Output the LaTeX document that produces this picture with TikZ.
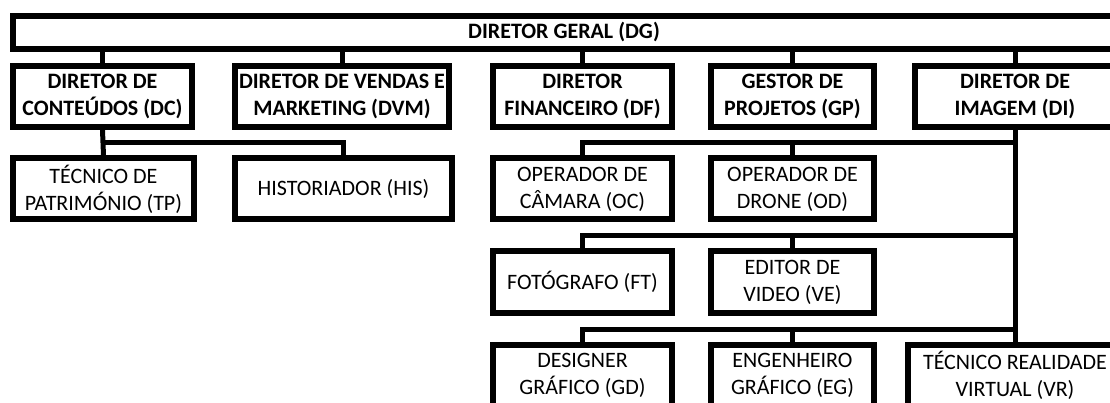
\documentclass[tikz,border=0pt]{standalone}
\usepackage{fontspec}
\setmainfont{Carlito}
\begin{document}
\begin{tikzpicture}[x=1pt,y=-1pt,
  box/.style={draw=black,line width=6pt,inner sep=0pt,align=center,
    minimum height=61pt,font=\fontsize{22}{27}\selectfont},
  boss/.style={box,font=\fontsize{22}{27}\selectfont\bfseries},
  conn/.style={draw=black,line width=5pt}]
\useasboundingbox (0,0) rectangle (1110,403);
\clip (0,0) rectangle (1110,403);
% level 1
\node[boss,minimum width=1102pt,minimum height=33pt] (dg) at (564,32.5) {DIRETOR GERAL (DG)};
% level 2
\node[boss,minimum width=179pt] (dc) at (102.5,96.5) {DIRETOR DE\\CONTEÚDOS (DC)};
\node[boss,minimum width=214pt] (dvm) at (342,96.5) {DIRETOR DE VENDAS E\\MARKETING (DVM)};
\node[boss,minimum width=179pt] (df) at (582.5,96.5) {DIRETOR\\FINANCEIRO (DF)};
\node[boss,minimum width=163pt] (gp) at (792.5,96.5) {GESTOR DE\\PROJETOS (GP)};
\node[boss,minimum width=200pt] (di) at (1015,96.5) {DIRETOR DE\\IMAGEM (DI)};
% level 3
\node[box,minimum width=181pt] (tp) at (103.5,189) {TÉCNICO DE\\PATRIMÓNIO (TP)};
\node[box,minimum width=217pt] (his) at (343.5,189) {HISTORIADOR (HIS)};
\node[box,minimum width=179pt] (oc) at (582.5,189) {OPERADOR DE\\CÂMARA (OC)};
\node[box,minimum width=163pt] (od) at (792.5,189) {OPERADOR DE\\DRONE (OD)};
% level 4
\node[box,minimum width=179pt] (ft) at (582.5,282) {FOTÓGRAFO (FT)};
\node[box,minimum width=163pt] (ve) at (792.5,282) {EDITOR DE\\VIDEO (VE)};
% level 5
\node[box,minimum width=179pt] (gd) at (582.5,375) {DESIGNER\\GRÁFICO (GD)};
\node[box,minimum width=163pt] (eg) at (792.5,375) {ENGENHEIRO\\GRÁFICO (EG)};
\node[box,minimum width=214pt] (vr) at (1015,375) {TÉCNICO REALIDADE\\VIRTUAL (VR)};
% branch levels
\coordinate (r3) at (0,143);
\coordinate (r4) at (0,236);
\coordinate (r5) at (0,329);
% connectors DG -> level 2
\foreach \n in {dc,dvm,df,gp,di}
  \draw[conn] (dg.south -| \n.north) -- (\n.north);
% DC branch
\draw[conn] (dc.south) -- (tp.north);
\draw[conn] (dc.south |- r3) -| (his.north);
% DI spine
\draw[conn] (di.south) -- (vr.north);
\draw[conn] (oc.north) |- (di.south |- r3);
\draw[conn] (od.north) -- (od.north |- r3);
\draw[conn] (ft.north) |- (di.south |- r4);
\draw[conn] (ve.north) -- (ve.north |- r4);
\draw[conn] (gd.north) |- (di.south |- r5);
\draw[conn] (eg.north) -- (eg.north |- r5);
\end{tikzpicture}
\end{document}
